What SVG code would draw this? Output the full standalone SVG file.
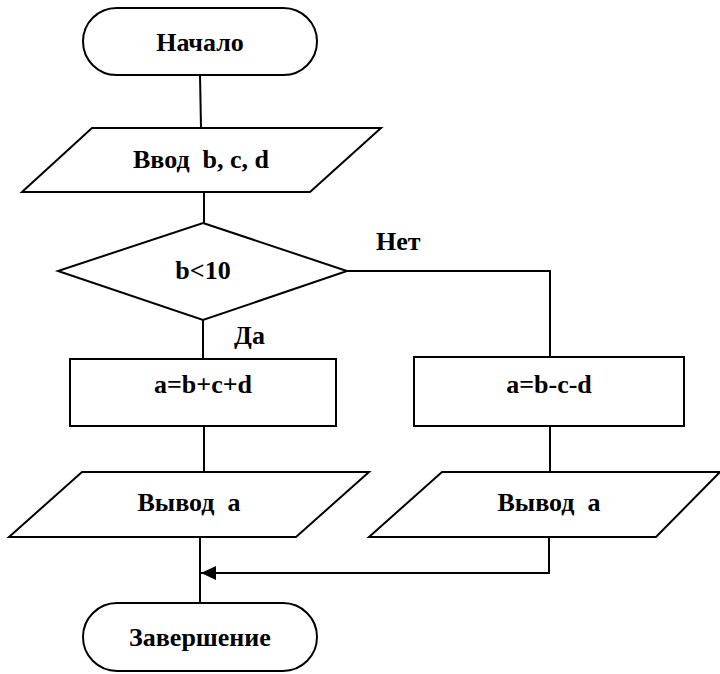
<svg xmlns="http://www.w3.org/2000/svg" width="720" height="674" viewBox="0 0 720 674">
<style>
.s{fill:#fff;stroke:#000;stroke-width:2}
.c{fill:none;stroke:#000;stroke-width:2}
text{font-family:"Liberation Serif","Times New Roman",serif;font-weight:bold;font-size:26px;fill:#000}
.m{text-anchor:middle}
</style>
<defs>
<marker id="ah" markerWidth="16" markerHeight="14" refX="15" refY="7" orient="auto" markerUnits="userSpaceOnUse">
<path d="M0,0 L15,7 L0,14 Z" fill="#000"/>
</marker>
</defs>
<g id="connectors">
<path class="c" d="M200,75 L201,128"/>
<path class="c" d="M204,192 L204,223"/>
<path class="c" d="M203,320 L203,359"/>
<path class="c" d="M347,271 L550,271 L550,357"/>
<path class="c" d="M204,426 L204,472"/>
<path class="c" d="M550,426 L550,472"/>
<path class="c" d="M200,537 L200,603"/>
<path class="c" d="M549,537 L549,573 L201,573" marker-end="url(#ah)"/>
</g>
<g id="start">
<rect class="s" x="83" y="8" width="234" height="67" rx="33.5"/>
<text class="m" x="200" y="51">Начало</text>
</g>
<g id="input">
<polygon class="s" points="92,128 381,128 310,192 22,192"/>
<text class="m" x="201" y="168" xml:space="preserve">Ввод  b, c, d</text>
</g>
<g id="decision">
<polygon class="s" points="203,223 347,271 203,320 58,271"/>
<text class="m" x="203" y="279">b&lt;10</text>
</g>
<g id="labels">
<text x="376" y="250">Нет</text>
<text x="234" y="344">Да</text>
</g>
<g id="proc1">
<rect class="s" x="70" y="359" width="266" height="67"/>
<text class="m" x="203" y="393">a=b+c+d</text>
</g>
<g id="proc2">
<rect class="s" x="414" y="357" width="270" height="69"/>
<text class="m" x="549" y="393">a=b-c-d</text>
</g>
<g id="out1">
<polygon class="s" points="82,472 369,472 296,537 9,537"/>
<text class="m" x="189" y="511" xml:space="preserve">Вывод  а</text>
</g>
<g id="out2">
<polygon class="s" points="442,472 720,472 656,537 369,537"/>
<text class="m" x="549" y="511" xml:space="preserve">Вывод  а</text>
</g>
<g id="end">
<rect class="s" x="83" y="603" width="234" height="68" rx="34"/>
<text class="m" x="200" y="646">Завершение</text>
</g>
</svg>
